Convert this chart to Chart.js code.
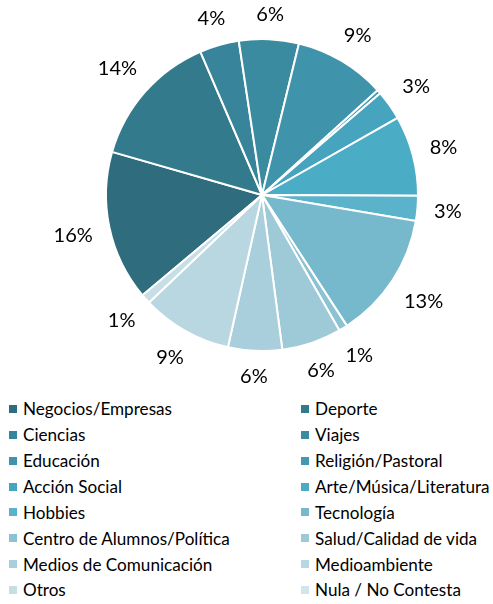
<!DOCTYPE html>
<html>
<head>
<meta charset="utf-8">
<script src="https://cdn.jsdelivr.net/npm/chart.js@4.4.1/dist/chart.umd.min.js"></script>
<style>
  html, body { margin: 0; padding: 0; background: #fff; }
  body { width: 493px; height: 604px; position: relative; overflow: hidden; font-family: Lato, "Open Sans", sans-serif; }
  #wrap { position: absolute; left: 0; top: 0; width: 493px; height: 395px; }
  #legend { position: absolute; left: 9px; top: 396px; display: grid;
            grid-template-columns: 292px 192px; grid-auto-rows: 25.86px; color: #000; }
  .item { display: flex; align-items: center; white-space: nowrap; }
  .box { width: 8px; height: 8px; flex: 0 0 8px; margin-right: 6px; }
</style>
</head>
<body>
<div id="wrap"><canvas id="c"></canvas></div>
<div id="legend"></div>
<script>
const categories = [
  "Negocios/Empresas", "Deporte", "Ciencias", "Viajes", "Educación",
  "Religión/Pastoral", "Acción Social", "Arte/Música/Literatura", "Hobbies",
  "Tecnología", "Centro de Alumnos/Política", "Salud/Calidad de vida",
  "Medios de Comunicación", "Medioambiente", "Otros", "Nula / No Contesta"
];
const values = [15.6, 14.1, 4.1, 6.2, 9.5, 0.4, 3.1, 8.3, 2.6, 13.2, 0.9, 6.2, 5.6, 9.4, 1.0, 0];
const colors = [
  "#2E6C7E", "#337A8D", "#38849A", "#3A8AA0", "#3F94AB", "#4399B1", "#47A4BE", "#4BACC6",
  "#5BB3CB", "#76B9CD", "#8CC3D3", "#9EC9D7", "#AACFDC", "#B9D7E1", "#C7DEE7", "#D2E5EC"
];

const total = values.reduce((a, b) => a + b, 0);

const pctLabels = {
  id: 'pctLabels',
  afterDatasetsDraw(chart) {
    const ctx = chart.ctx;
    const meta = chart.getDatasetMeta(0);
    ctx.save();
    ctx.font = '20px Lato';
    ctx.fillStyle = '#000';
    ctx.textAlign = 'center';
    ctx.textBaseline = 'alphabetic';
    meta.data.forEach((arc, i) => {
      const pct = Math.round(values[i] / total * 100);
      if (pct === 0) return;
      const p = arc.getProps(['x', 'y', 'startAngle', 'endAngle', 'outerRadius'], true);
      const a = (p.startAngle + p.endAngle) / 2;
      const ux = Math.cos(a), uy = Math.sin(a);
      const txt = pct + '%';
      const w = ctx.measureText(txt).width;
      const d = p.outerRadius + 16 + Math.abs(ux) * w / 2 + Math.abs(uy) * 9;
      ctx.fillText(txt, p.x + ux * d, p.y + uy * d + 7);
    });
    ctx.restore();
  }
};

new Chart(document.getElementById('c'), {
  type: 'pie',
  data: {
    labels: categories,
    datasets: [{
      data: values,
      backgroundColor: colors,
      borderColor: '#ffffff',
      borderWidth: 2,
      radius: 156
    }]
  },
  options: {
    responsive: true,
    maintainAspectRatio: false,
    animation: false,
    rotation: 230,
    layout: { padding: { left: 72, right: 41, top: 5, bottom: 10 } },
    plugins: { legend: { display: false }, tooltip: { enabled: false } }
  },
  plugins: [pctLabels]
});

// legend
const mctx = document.createElement('canvas').getContext('2d');
mctx.font = '100px Lato';
const fs = 100 * 149 / mctx.measureText('Negocios/Empresas').width;
const leg = document.getElementById('legend');
leg.style.fontSize = fs.toFixed(2) + 'px';
categories.forEach((c, i) => {
  const it = document.createElement('div');
  it.className = 'item';
  const b = document.createElement('span');
  b.className = 'box';
  b.style.background = colors[i];
  const t = document.createElement('span');
  t.textContent = c;
  it.appendChild(b); it.appendChild(t);
  leg.appendChild(it);
});
</script>
</body>
</html>
